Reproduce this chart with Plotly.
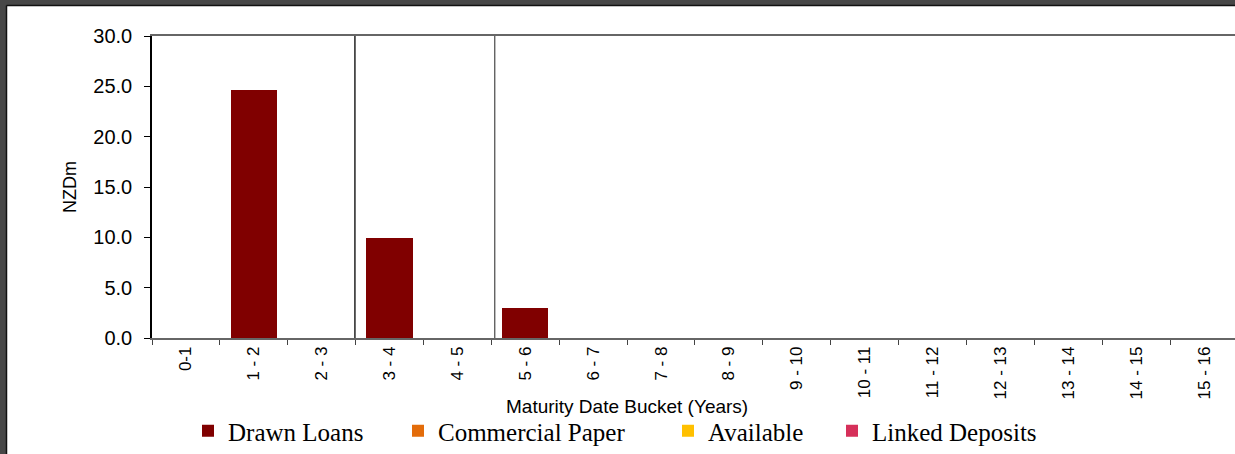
import plotly.graph_objects as go

# ---- data ----
buckets = ["0-1", "1 - 2", "2 - 3", "3 - 4", "4 - 5", "5 - 6", "6 - 7", "7 - 8",
           "8 - 9", "9 - 10", "10 - 11", "11 - 12", "12 - 13", "13 - 14", "14 - 15", "15 - 16"]
drawn_loans = [0, 24.6, 0, 9.9, 0, 3.0, 0, 0, 0, 0, 0, 0, 0, 0, 0, 0]
commercial_paper = [0] * 16
available = [0] * 16
linked_deposits = [0] * 16
marker_lines = [2.49, 4.55]
y_ticks = [0, 5, 10, 15, 20, 25, 30]

series = [
    ("Drawn Loans", drawn_loans, "#800000"),
    ("Commercial Paper", commercial_paper, "#E36C0A"),
    ("Available", available, "#FFC000"),
    ("Linked Deposits", linked_deposits, "#D6305A"),
]

# ---- geometry (pixels) ----
W, H = 1235, 454
L, T, B, R = 152, 36, 116, 0
PW = W - L - R
PH = H - T - B


def px_x(px):
    return (px - L) / PW


def px_y(py):
    return (H - B - py) / PH


legend_text_x = [230, 440, 710, 874]

fig = go.Figure()
legend_names = ["legend", "legend2", "legend3", "legend4"]
for (name, vals, col), lg in zip(series, legend_names):
    fig.add_trace(go.Bar(x=buckets, y=vals, name=name, marker=dict(color=col, line=dict(width=0)),
                         width=0.68, legend=lg))

for xv, col in zip(marker_lines, ["#000000", "#555555"]):
    fig.add_shape(type="line", xref="x", yref="y", x0=xv, x1=xv, y0=0, y1=30,
                  line=dict(color=col, width=1.3))

# dark frame (screenshot border)
fig.add_shape(type="rect", xref="paper", yref="paper", x0=px_x(0), x1=px_x(7),
              y0=px_y(H), y1=px_y(0), fillcolor="#474747", line=dict(width=0), layer="above")
fig.add_shape(type="rect", xref="paper", yref="paper", x0=px_x(0), x1=px_x(W),
              y0=px_y(5), y1=px_y(0), fillcolor="#474747", line=dict(width=0), layer="above")
fig.add_shape(type="line", xref="paper", yref="paper", x0=px_x(6.5), x1=px_x(6.5),
              y0=px_y(H), y1=px_y(5.5), line=dict(color="#111111", width=1.5))
fig.add_shape(type="line", xref="paper", yref="paper", x0=px_x(6.5), x1=px_x(W),
              y0=px_y(5.5), y1=px_y(5.5), line=dict(color="#111111", width=1.5))

fig.add_annotation(text="Maturity Date Bucket (Years)", xref="paper", yref="paper",
                   x=px_x(627), y=px_y(406), showarrow=False, xanchor="center", yanchor="middle",
                   font=dict(family="Liberation Sans, Arial", size=19, color="#000000"))
fig.add_annotation(text="NZDm", xref="paper", yref="paper", textangle=-90,
                   x=px_x(70), y=px_y(187), showarrow=False, xanchor="center", yanchor="middle",
                   font=dict(family="Liberation Sans, Arial", size=18, color="#000000"))

legend_font = dict(family="Liberation Serif, Times New Roman", size=25, color="#000000")
layout_legends = {}
for lg, tx in zip(legend_names, legend_text_x):
    layout_legends[lg] = dict(x=px_x(tx - 42), y=px_y(431), xanchor="left", yanchor="middle",
                              orientation="h", font=legend_font, bgcolor="rgba(0,0,0,0)",
                              borderwidth=0, itemwidth=30)

fig.update_layout(
    width=W, height=H,
    margin=dict(l=L, r=R, t=T, b=B, pad=0),
    paper_bgcolor="#ffffff", plot_bgcolor="#ffffff",
    barmode="stack", bargap=0.32,
    showlegend=True,
    **layout_legends,
    xaxis=dict(
        type="category", range=[-0.5, -0.5 + PW / 67.87],
        tickangle=-90, tickson="boundaries", ticks="outside", ticklen=5, tickcolor="#444444",
        tickfont=dict(family="Liberation Sans, Arial", size=17, color="#000000"),
        showline=True, linecolor="#666666", linewidth=1.5, mirror=True,
        showgrid=False, zeroline=False,
    ),
    yaxis=dict(
        range=[0, 30], tickvals=y_ticks, tickformat=".1f",
        ticks="outside", ticklen=6, tickcolor="#000000", ticklabelstandoff=8,
        tickfont=dict(family="Liberation Sans, Arial", size=20, color="#000000"),
        showline=True, linecolor="#000000", linewidth=1.5,
        showgrid=False, zeroline=False,
    ),
)

fig.write_html("out.html")
